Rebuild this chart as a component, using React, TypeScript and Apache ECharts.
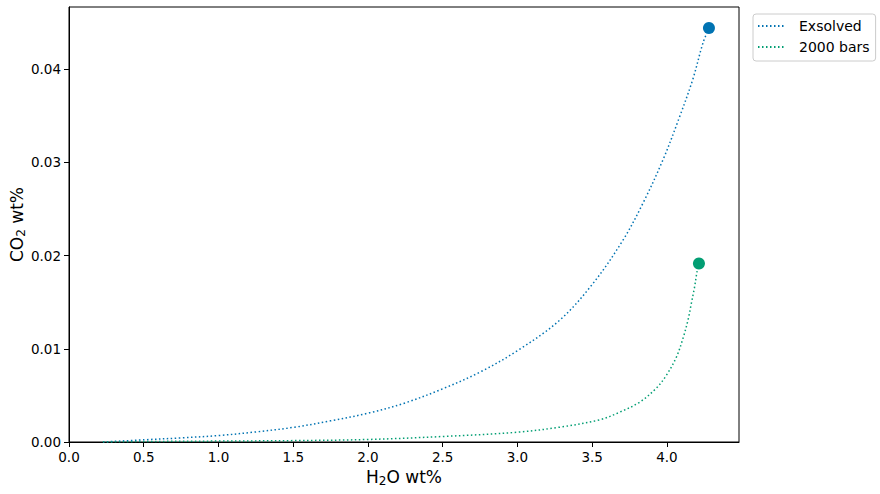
import React, { useEffect, useRef } from "react";
import * as echarts from "echarts";

const exsolvedX = [0.227, 0.506, 0.75, 1.008, 1.25, 1.51, 1.75, 2.011, 2.25, 2.502, 2.75, 3.003, 3.282, 3.505, 3.706, 3.839, 3.973, 4.085, 4.173, 4.241, 4.281];
const exsolvedY = [0, 0.00024, 0.00044, 0.0007, 0.00108, 0.00159, 0.00227, 0.00313, 0.0042, 0.00572, 0.0075, 0.00983, 0.01306, 0.017, 0.02166, 0.0256, 0.03025, 0.0349, 0.0389, 0.0428, 0.0444];

const bars2000X = [0.227, 0.5, 1.0, 1.5, 2.0, 2.5, 3.0, 3.282, 3.55, 3.684, 3.818, 3.929, 3.996, 4.063, 4.107, 4.141, 4.163, 4.185, 4.201, 4.214];
const bars2000Y = [0, 0.00005, 0.0001, 0.00015, 0.00027, 0.00059, 0.00105, 0.00159, 0.00238, 0.0032, 0.00428, 0.00578, 0.00715, 0.0091, 0.0111, 0.0131, 0.01485, 0.01664, 0.01825, 0.01915];

const xTicks = [0, 0.5, 1.0, 1.5, 2.0, 2.5, 3.0, 3.5, 4.0];
const yTicks = [0, 0.01, 0.02, 0.03, 0.04];

const seriesNames = ["Exsolved", "2000 bars"];
const colors = ["#0173B2", "#029E73"];

const FONT = "DejaVu Sans";

export default function App() {
  const ref = useRef<HTMLDivElement>(null);
  useEffect(() => {
    document.body.style.margin = "0";
    const chart = echarts.init(ref.current!, null, { renderer: "svg" });
    const pairs = (xs: number[], ys: number[]) => xs.map((x, i) => [x, ys[i]]);
    const exData = pairs(exsolvedX, exsolvedY);
    const gData = pairs(bars2000X, bars2000Y);
    chart.setOption({
      animation: false,
      textStyle: { fontFamily: FONT },
      grid: {
        left: 69, right: 141, top: 7, bottom: 52,
        containLabel: false,
        outerBoundsMode: "none",
        show: true, borderColor: "#000", borderWidth: 1, backgroundColor: "transparent",
      },
      legend: {
        data: seriesNames,
        orient: "vertical",
        left: 753,
        top: 14,
        itemWidth: 28,
        itemHeight: 1,
        itemGap: 5,
        padding: [4, 6, 6, 4],
        borderColor: "#cccccc",
        borderWidth: 1,
        borderRadius: 3,
        itemStyle: { opacity: 0 },
        textStyle: { fontFamily: FONT, fontSize: 14, color: "#000", padding: [0, 0, 0, 8], lineHeight: 16 },
      },
      xAxis: {
        type: "value",
        min: 0,
        max: 4.482,
        name: "{a|H}{s|2}{a|O wt%}",
        nameLocation: "middle",
        nameGap: 25,
        nameMoveOverlap: false,
        nameTextStyle: {
          rich: {
            a: { fontFamily: FONT, fontSize: 17, color: "#000" },
            s: { fontFamily: FONT, fontSize: 12, color: "#000", padding: [8, 0, 0, 0] },
          },
        },
        axisLine: { show: true, lineStyle: { color: "#000", width: 1 } },
        axisTick: { show: true, length: 5, lineStyle: { color: "#000" }, customValues: xTicks },
        axisLabel: { color: "#000", fontSize: 13.5, fontFamily: FONT, margin: 8, customValues: xTicks, formatter: (v: number) => v.toFixed(1) },
        splitLine: { show: false },
      },
      yAxis: {
        type: "value",
        min: 0,
        max: 0.04666,
        name: "{a|CO}{s|2}{a| wt%}",
        nameLocation: "middle",
        nameRotate: 90,
        nameGap: 42,
        nameMoveOverlap: false,
        nameTextStyle: {
          rich: {
            a: { fontFamily: FONT, fontSize: 17, color: "#000" },
            s: { fontFamily: FONT, fontSize: 12, color: "#000", padding: [8, 0, 0, 0] },
          },
        },
        axisLine: { show: true, lineStyle: { color: "#000", width: 1 } },
        axisTick: { show: true, length: 5, lineStyle: { color: "#000" }, customValues: yTicks },
        axisLabel: { color: "#000", fontSize: 13.5, fontFamily: FONT, margin: 8, customValues: yTicks, formatter: (v: number) => v.toFixed(2) },
        splitLine: { show: false },
      },
      series: [
        {
          name: seriesNames[0],
          type: "line",
          data: exData,
          symbol: "none",
          smooth: 0.35,
          lineStyle: { color: colors[0], width: 1.5, type: [1.5, 2.5] },
          itemStyle: { color: colors[0] },
        },
        {
          name: seriesNames[1],
          type: "line",
          data: gData,
          symbol: "none",
          smooth: 0.35,
          lineStyle: { color: colors[1], width: 1.5, type: [1.5, 2.5] },
          itemStyle: { color: colors[1] },
        },
        {
          name: "exsolved-end",
          type: "scatter",
          data: [exData[exData.length - 1]],
          symbolSize: 12,
          itemStyle: { color: colors[0], opacity: 1 },
        },
        {
          name: "2000-end",
          type: "scatter",
          data: [gData[gData.length - 1]],
          symbolSize: 12,
          itemStyle: { color: colors[1], opacity: 1 },
        },
      ],
    });
    return () => chart.dispose();
  }, []);
  return <div ref={ref} style={{ width: 880, height: 494 }} />;
}
